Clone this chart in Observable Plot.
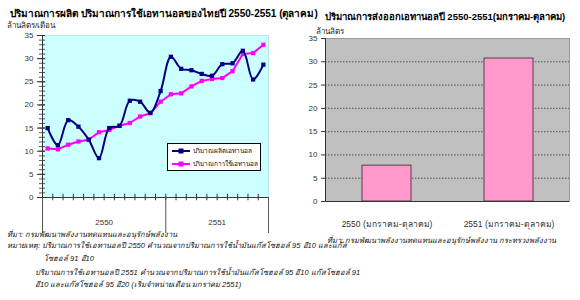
<!DOCTYPE html>
<html>
<head>
<meta charset="utf-8">
<script src="https://cdn.jsdelivr.net/npm/d3@7"></script>
<script src="https://cdn.jsdelivr.net/npm/@observablehq/plot@0.6"></script>
<style>
  body { margin: 0; background: #fff; }
  #wrap { position: relative; width: 580px; height: 300px; overflow: hidden; font-family: "Liberation Sans", Arial, sans-serif; }
  .abs { position: absolute; white-space: nowrap; }
  .title { font-weight: bold; font-size: 9.5px; color: #000; line-height: 12px; }
  .unit { font-size: 8px; color: #222; line-height: 10px; }
  .note { font-size: 7.5px; font-style: italic; color: #111; line-height: 9px; }
  #legend { position: absolute; left: 167px; top: 143px; width: 94px; height: 28px; background: #fff; border: 1px solid #000; box-sizing: border-box; font-size: 6.5px; color: #111; }
  #legend div { display: flex; align-items: center; height: 12px; margin-top: 1px; padding-left: 3px; }
  #legend svg { margin-right: 2px; }
</style>
</head>
<body>
<div id="wrap">
  <div id="left" class="abs" style="left:0;top:0"></div>
  <div id="right" class="abs" style="left:300px;top:0"></div>
  <div class="abs title" style="left:10px;top:8px;width:284px;text-align:center;font-size:10px">ปริมาณการผลิต ปริมาณการใช้เอทานอลของไทยปี 2550-2551 (ตุลาคม)</div>
  <div class="abs unit" style="left:7px;top:21px">ล้านลิตร/เดือน</div>
  <div class="abs title" style="left:320px;top:11px;width:250px;text-align:center">ปริมาณการส่งออกเอทานอลปี 2550-2551(มกราคม-ตุลาคม)</div>
  <div class="abs unit" style="left:316px;top:27px">ล้านลิตร</div>
  <div id="legend"></div>
  <div class="abs note" style="left:7px;top:230px">ที่มา: กรมพัฒนาพลังงานทดแทนและอนุรักษ์พลังงาน</div>
  <div class="abs note" style="left:7px;top:241px">หมายเหตุ: ปริมาณการใช้เอทานอลปี 2550 คำนวณจากปริมาณการใช้น้ำมันแก๊สโซฮอล์ 95 อี10 และแก๊ส</div>
  <div class="abs note" style="left:44px;top:254px">โซฮอล์ 91 อี10</div>
  <div class="abs note" style="left:35px;top:268px">ปริมาณการใช้เอทานอลปี 2551 คำนวณจากปริมาณการใช้น้ำมันแก๊สโซฮอล์ 95 อี10 แก๊สโซฮอล์ 91</div>
  <div class="abs note" style="left:35px;top:280px">อี10 และแก๊สโซฮอล์ 95 อี20 (เริ่มจำหน่ายเดือน มกราคม 2551)</div>
  <div class="abs note" style="left:327px;top:236px">ที่มา: กรมพัฒนาพลังงานทดแทนและอนุรักษ์พลังงาน กระทรวงพลังงาน</div>
</div>
<script>
// ---- data: left chart (monthly, 2550 Jan-Dec, 2551 Jan-Oct) ----
const years = ["2550", "2551"];
const monthsPerYear = [12, 10];
const seriesNames = ["ปริมาณผลิตเอทานอล", "ปริมาณการใช้เอทานอล"];
const seriesColors = ["#000080", "#ff00ff"];
const production = [15, 11.3, 16.7, 15.3, 12.5, 8.5, 15, 15.5, 20.9, 20.7, 18.3, 23,
                    30.4, 27.8, 27.5, 26.7, 26.3, 28.8, 29, 31.7, 25.5, 28.7];
const consumption = [10.6, 10.4, 11.4, 12.1, 12.5, 14.1, 14.6, 15.5, 16.1, 17.5, 18.2, 20.7,
                     22.3, 22.5, 24, 25.2, 25.6, 25.8, 27.3, 31, 31.2, 33];
const leftYTicks = [0, 5, 10, 15, 20, 25, 30, 35];

// ---- data: right chart ----
const exportCategories = ["2550 (มกราคม-ตุลาคม)", "2551 (มกราคม-ตุลาคม)"];
const exportVolume = [7.7, 30.7];
const rightYTicks = [0, 5, 10, 15, 20, 25, 30, 35];

// ---- derived tables ----
const nMonths = d3.sum(monthsPerYear);
const prodData = production.map((v, i) => ({i: i + 0.5, v}));
const consData = consumption.map((v, i) => ({i: i + 0.5, v}));
const boundaries = [0, ...d3.cumsum(monthsPerYear)];
const yearLabels = years.map((y, k) => ({y, x: (boundaries[k] + boundaries[k + 1]) / 2}));
const monthTicks = d3.range(1, nMonths);
const minorY = d3.range(0, 36, 1);

const tickFont = "Liberation Sans, Arial, sans-serif";

const left = Plot.plot({
  width: 290, height: 240,
  marginLeft: 42, marginRight: 22, marginTop: 35, marginBottom: 43,
  style: {fontFamily: tickFont, fontSize: "8px", color: "#333", background: "transparent", overflow: "visible"},
  x: {domain: [0, nMonths], axis: null},
  y: {domain: [0, 35], axis: null},
  marks: [
    Plot.frame({fill: "#ccffff", stroke: "#b8e8e8"}),
    Plot.ruleY(minorY, {x1: -0.3, x2: 0.3, stroke: "#333", strokeWidth: 0.8}),
    Plot.ruleY(leftYTicks, {x1: -0.5, x2: 0.3, stroke: "#333", strokeWidth: 1}),
    Plot.axisY({ticks: leftYTicks, tickSize: 0, tickPadding: 9, fill: "#333", fontSize: 8, label: null}),
    Plot.ruleX([0], {y1: 0, y2: 35, stroke: "#333"}),
    Plot.ruleY([0], {stroke: "#333"}),
    Plot.ruleX(monthTicks, {y1: -0.7, y2: 0.7, stroke: "#333"}),
    Plot.ruleX(boundaries, {y1: -7.8, y2: 0, stroke: "#555"}),
    Plot.text(yearLabels, {x: "x", y: -5.4, text: "y", fill: "#333", fontSize: 8}),
    Plot.line(consData, {x: "i", y: "v", stroke: seriesColors[1], strokeWidth: 2}),
    Plot.dot(consData, {x: "i", y: "v", symbol: "square", r: 2.4, fill: seriesColors[1]}),
    Plot.line(prodData, {x: "i", y: "v", stroke: seriesColors[0], strokeWidth: 2, curve: "catmull-rom"}),
    Plot.dot(prodData, {x: "i", y: "v", symbol: "square", r: 2.4, fill: seriesColors[0]})
  ]
});
document.getElementById("left").appendChild(left);

const exportData = exportCategories.map((c, k) => ({c, v: exportVolume[k]}));
const right = Plot.plot({
  width: 280, height: 240,
  marginLeft: 25, marginRight: 11, marginTop: 38, marginBottom: 39,
  style: {fontFamily: tickFont, fontSize: "8px", color: "#333", background: "transparent", overflow: "visible"},
  x: {domain: exportCategories, paddingInner: 0.6, paddingOuter: 0.3, axis: null},
  y: {domain: [0, 35], axis: null},
  marks: [
    Plot.frame({fill: "#c0c0c0", stroke: "#9a9a9a"}),
    Plot.ruleY(rightYTicks.filter(t => t > 0 && t < 35), {stroke: "#333", strokeDasharray: "1.5,1.5", strokeWidth: 0.8}),
    Plot.barY(exportData, {x: "c", y: "v", fill: "#ff99cc", stroke: "#5a3a4a", strokeWidth: 1, inset: 0}),
    Plot.axisY({ticks: rightYTicks, tickSize: 4, tickPadding: 4, stroke: "#333", fill: "#333", fontSize: 8, label: null}),
    Plot.frame({anchor: "left", stroke: "#333"}),
    Plot.ruleY([0], {stroke: "#333"}),
    Plot.axisX({tickSize: 0, tickPadding: 19, fill: "#333", fontSize: 8.5, label: null})
  ]
});
document.getElementById("right").appendChild(right);

const legend = document.getElementById("legend");
seriesNames.forEach((name, k) => {
  const row = document.createElement("div");
  row.innerHTML = `<svg width="20" height="6"><line x1="1" y1="3" x2="19" y2="3" stroke="${seriesColors[k]}" stroke-width="2"/><rect x="7.5" y="0.5" width="5" height="5" fill="${seriesColors[k]}"/></svg><span>${name}</span>`;
  legend.appendChild(row);
});
</script>
</body>
</html>
